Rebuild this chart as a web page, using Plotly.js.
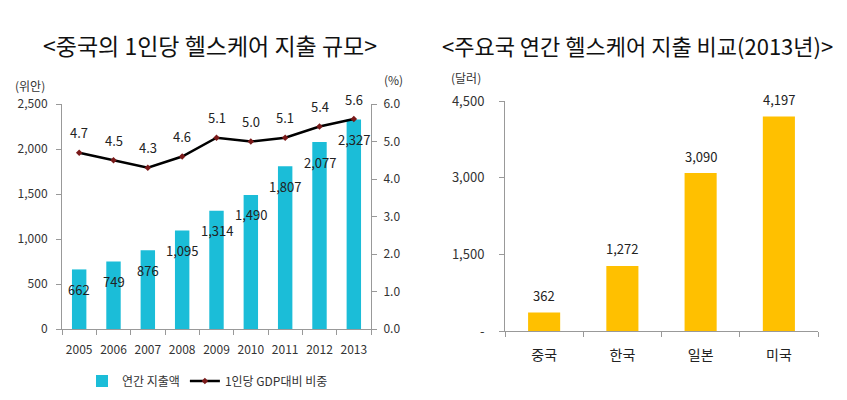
<!DOCTYPE html>
<html><head><meta charset="utf-8">
<script src="https://cdn.plot.ly/plotly-3.0.1.min.js"></script>
<style>html,body{margin:0;padding:0;background:#fff;}</style>
</head><body>
<div id="chart" style="width:847px;height:400px;"></div>
<script>
const years = ['2005','2006','2007','2008','2009','2010','2011','2012','2013'];
const annualSpend = [662, 749, 876, 1095, 1314, 1490, 1807, 2077, 2327];
const gdpShare = [4.7, 4.5, 4.3, 4.6, 5.1, 5.0, 5.1, 5.4, 5.6];
const countries = ['중국', '한국', '일본', '미국'];
const countrySpend = [362, 1272, 3090, 4197];
const leftTicks = [0, 500, 1000, 1500, 2000, 2500];
const rightTicks = [0, 1, 2, 3, 4, 5, 6];
const countryTicks = [0, 1500, 3000, 4500];
const countryTickText = ['-', '1,500', '3,000', '4,500'];

const FONT = 'Noto Sans CJK KR, Noto Sans, sans-serif';
const W = 847, H = 400;
const fx = p => p / W;
const fy = p => (H - p) / H;
const fmt = v => v.toLocaleString('en-US');

const traces = [
  {type:'bar', x: years, y: annualSpend, xaxis:'x', yaxis:'y', name:'연간 지출액',
   marker:{color:'#1BBDD8'}, width:0.42, hoverinfo:'skip'},
  {type:'scatter', mode:'lines+markers', x: years, y: gdpShare, xaxis:'x', yaxis:'y2',
   name:'1인당 GDP대비 비중', line:{color:'#000000', width:2.5},
   marker:{color:'#7A1A1A', size:5, symbol:'diamond'}, hoverinfo:'skip'},
  {type:'bar', x: countries, y: countrySpend, xaxis:'x2', yaxis:'y3', showlegend:false,
   marker:{color:'#FFC000'}, width:0.41, hoverinfo:'skip'}
];

const annotations = [];
years.forEach((yr, i) => {
  annotations.push({x: i, y: annualSpend[i], xref:'x', yref:'y', text: fmt(annualSpend[i]),
    showarrow:false, yshift:-20, font:{family:FONT, size:13, color:'#222'}});
  annotations.push({x: i, y: gdpShare[i], xref:'x', yref:'y2', text: gdpShare[i].toFixed(1),
    showarrow:false, yshift:20, font:{family:FONT, size:13, color:'#222'}});
});
countries.forEach((c, i) => {
  annotations.push({x: i, y: countrySpend[i], xref:'x2', yref:'y3', text: fmt(countrySpend[i]),
    showarrow:false, yshift:17, font:{family:FONT, size:13, color:'#222'}});
});
// titles & units
annotations.push({xref:'paper', yref:'paper', x: fx(210), y: fy(45), text:'&lt;중국의 1인당 헬스케어 지출 규모&gt;',
  showarrow:false, font:{family:FONT, size:23, color:'#111'}, xanchor:'center', yanchor:'middle'});
annotations.push({xref:'paper', yref:'paper', x: fx(637), y: fy(45), text:'&lt;주요국 연간 헬스케어 지출 비교(2013년)&gt;',
  showarrow:false, font:{family:FONT, size:22, color:'#111'}, xanchor:'center', yanchor:'middle'});
annotations.push({xref:'paper', yref:'paper', x: fx(30), y: fy(85), text:'(위안)',
  showarrow:false, font:{family:FONT, size:12, color:'#333'}, xanchor:'center', yanchor:'middle'});
annotations.push({xref:'paper', yref:'paper', x: fx(393), y: fy(80), text:'(%)',
  showarrow:false, font:{family:FONT, size:12, color:'#333'}, xanchor:'center', yanchor:'middle'});
annotations.push({xref:'paper', yref:'paper', x: fx(466), y: fy(77), text:'(달러)',
  showarrow:false, font:{family:FONT, size:12, color:'#333'}, xanchor:'center', yanchor:'middle'});

const axisCommon = {showgrid:false, zeroline:false, showline:true, linecolor:'#999', linewidth:1,
  ticks:'outside', ticklen:5, tickcolor:'#999', fixedrange:true,
  tickfont:{family:FONT, size:12, color:'#333'}};

const layout = {
  width: W, height: H,
  margin:{l:0, r:0, t:0, b:0},
  paper_bgcolor:'#fff', plot_bgcolor:'#fff',
  showlegend:true,
  legend:{orientation:'h', x: fx(82), y: fy(381), xanchor:'left', yanchor:'middle',
    font:{family:FONT, size:12, color:'#333'}, bgcolor:'rgba(0,0,0,0)', itemwidth:30},
  xaxis: Object.assign({}, axisCommon, {domain:[fx(62), fx(371)], anchor:'y', type:'category',
    range:[-0.5, 8.5], tickson:'boundaries', ticklabelstandoff:10, tickangle:0}),
  yaxis: Object.assign({}, axisCommon, {domain:[fy(329), fy(104)], anchor:'x', range:[0,2500],
    tickvals: leftTicks, ticktext: leftTicks.map(fmt), ticklabelstandoff:6}),
  yaxis2: Object.assign({}, axisCommon, {overlaying:'y', side:'right', anchor:'x', range:[0,6],
    tickvals: rightTicks, ticktext: rightTicks.map(v => v.toFixed(1)), ticklabelstandoff:4}),
  xaxis2: Object.assign({}, axisCommon, {domain:[fx(505), fx(818)], anchor:'y3', type:'category',
    range:[-0.5, 3.5], tickson:'boundaries', ticklabelstandoff:11,
    tickfont:{family:FONT, size:14, color:'#222'}}),
  yaxis3: Object.assign({}, axisCommon, {domain:[fy(331), fy(101)], anchor:'x2', range:[0,4500],
    tickvals: countryTicks, ticktext: countryTickText, ticklabelstandoff:12,
    tickfont:{family:FONT, size:13, color:'#333'}}),
  annotations: annotations
};

Plotly.newPlot('chart', traces, layout, {displayModeBar:false, staticPlot:true});
</script>
</body></html>
